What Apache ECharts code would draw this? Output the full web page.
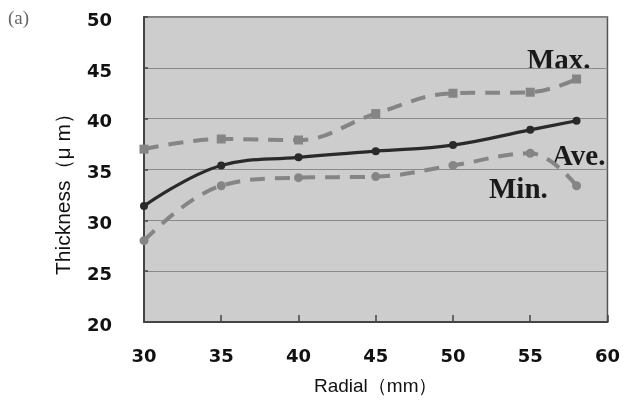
<!DOCTYPE html>
<html><head><meta charset="utf-8">
<script src="https://cdn.jsdelivr.net/npm/echarts@6/dist/echarts.min.js"></script>
<style>html,body{margin:0;padding:0;background:#fff}#c{width:623px;height:401px}</style>
</head><body><div id="c"></div>
<script>
const radial = [30, 35, 40, 45, 50, 55, 58];
const maxVals = [37.0, 38.0, 37.9, 40.5, 42.5, 42.6, 43.9];
const aveVals = [31.4, 35.4, 36.2, 36.8, 37.4, 38.9, 39.8];
const minVals = [28.0, 33.4, 34.2, 34.3, 35.4, 36.6, 33.4];
const xTicks = [30, 35, 40, 45, 50, 55, 60];
const yTicks = [20, 25, 30, 35, 40, 45, 50];

const pair = (ys) => radial.map((x, i) => [x, ys[i]]);
const chart = echarts.init(document.getElementById('c'));
const tickFont = {fontFamily: 'DejaVu Sans', fontWeight: 'bold', fontSize: 18, color: '#111'};
chart.setOption({
  animation: false,
  backgroundColor: '#fff',
  grid: {left: 144, right: 15, top: 17, bottom: 76, show: true, backgroundColor: '#cdcdcd', borderColor: '#555', borderWidth: 1.5},
  xAxis: {
    type: 'value', min: xTicks[0], max: xTicks[xTicks.length - 1], interval: 5,
    name: 'Radial（mm）', nameLocation: 'middle', nameGap: 55,
    nameTextStyle: {fontFamily: 'Liberation Sans', fontSize: 19, color: '#111'},
    axisLine: {show: true, lineStyle: {color: '#444', width: 2}},
    axisTick: {show: true, inside: true, length: 7, lineStyle: {color: '#444', width: 1.5}},
    axisLabel: Object.assign({margin: 26}, tickFont),
    splitLine: {show: false}
  },
  yAxis: {
    type: 'value', min: yTicks[0], max: yTicks[yTicks.length - 1], interval: 5,
    axisLine: {show: true, lineStyle: {color: '#444', width: 2}},
    axisTick: {show: true, inside: true, length: 4, lineStyle: {color: '#444', width: 1.5}},
    axisLabel: Object.assign({margin: 32, verticalAlign: 'top', lineHeight: 20, padding: [-6, 0, 0, 0]}, tickFont),
    splitLine: {show: true, lineStyle: {color: '#8a8a8a', width: 1}}
  },
  series: [
    {name: 'Max.', type: 'line', smooth: 0.4, data: pair(maxVals),
     symbol: 'rect', symbolSize: 9,
     itemStyle: {color: '#858585'},
     lineStyle: {color: '#858585', width: 4, type: [15, 10]}},
    {name: 'Min.', type: 'line', smooth: 0.4, data: pair(minVals),
     symbol: 'circle', symbolSize: 9,
     itemStyle: {color: '#858585'},
     lineStyle: {color: '#858585', width: 4, type: [15, 10]}},
    {name: 'Ave.', type: 'line', smooth: 0.4, data: pair(aveVals),
     symbol: 'circle', symbolSize: 8,
     itemStyle: {color: '#2a2a2a'},
     lineStyle: {color: '#2a2a2a', width: 3.2}}
  ],
  graphic: [
    {type: 'text', left: 8, top: 10, style: {text: '(a)', font: '19px "Liberation Serif"', fill: '#666'}},
    {type: 'text', x: 64, y: 189, rotation: Math.PI / 2,
     style: {text: 'Thickness（μ m）', font: '21px "Liberation Sans"', fill: '#111', textAlign: 'center', textVerticalAlign: 'middle'}},
    {type: 'text', left: 527, top: 47, style: {text: 'Max.', font: 'bold 29px "Liberation Serif"', fill: '#1a1a1a'}},
    {type: 'text', left: 552, top: 143, style: {text: 'Ave.', font: 'bold 29px "Liberation Serif"', fill: '#1a1a1a'}},
    {type: 'text', left: 489, top: 176, style: {text: 'Min.', font: 'bold 29px "Liberation Serif"', fill: '#1a1a1a'}}
  ]
});
</script></body></html>
